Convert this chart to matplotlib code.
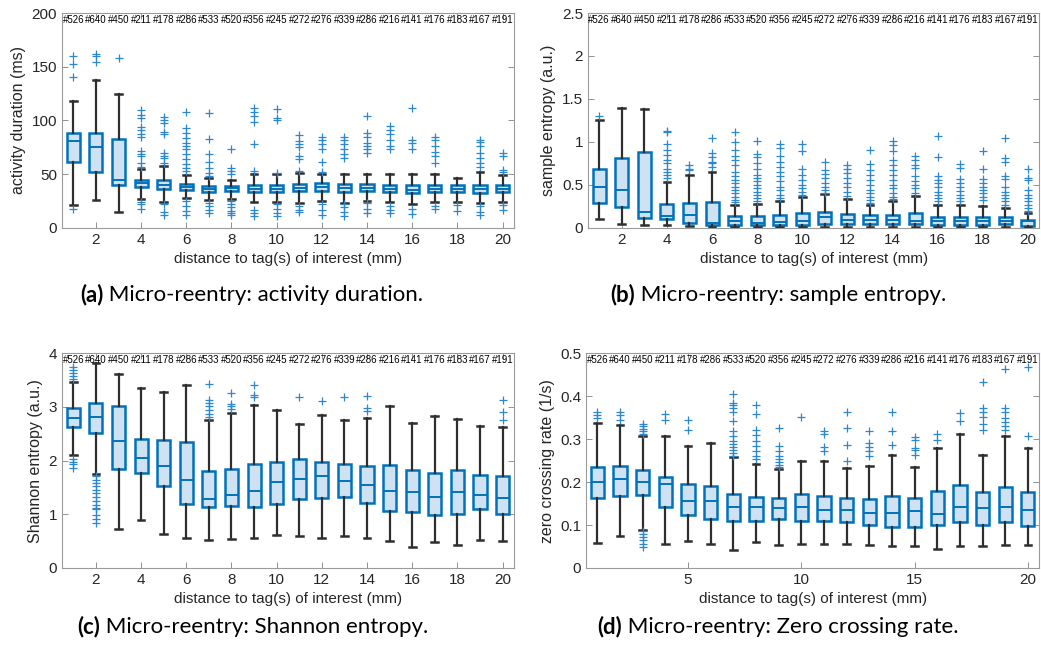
import numpy as np
import matplotlib
matplotlib.use("Agg")
import matplotlib.pyplot as plt
import matplotlib.transforms as mtransforms

plt.rcParams['font.family'] = ['Liberation Sans', 'DejaVu Sans']

# distances 1..20 mm and the number of samples per distance
dist = np.arange(1, 21)
counts = [526, 640, 450, 211, 178, 286, 533, 520, 356, 245,
          272, 276, 339, 286, 216, 141, 176, 183, 167, 191]

# (a) activity duration (ms)
dur_q1 = [61, 52, 40, 38, 36, 35, 33, 34, 33, 33, 34, 34, 33.5, 34, 33.5, 32.5, 33, 33, 32.5, 33]
dur_med = [80.5, 75.5, 45, 42, 40, 38, 36, 37, 36.5, 36.5, 37, 38, 37, 37.5, 36.5, 35.5, 36.5, 36.5, 36, 36.5]
dur_q3 = [88, 88, 83, 45, 45, 41, 39, 39, 40, 40, 41, 42, 41, 41, 40, 40, 40, 40, 40, 40]
dur_lo = [21, 26, 15, 27, 24, 28, 26, 27, 24, 24, 23, 25, 23, 25, 24, 22, 24, 24, 23, 24]
dur_hi = [118, 138, 125, 55, 58, 49, 46, 45, 50, 50, 51, 50, 50, 50, 50, 50, 50, 46, 52, 49]
dur_out = [
    [160, 153, 140, 18], [162, 160, 154], [158],
    [110, 105, 102, 94, 91, 87, 85, 72, 69, 67, 60, 57, 24, 22, 18],
    [103, 100, 98, 89, 87, 70, 67, 65, 60, 22, 15, 12],
    [108, 93, 88, 84, 79, 76, 73, 69, 64, 59, 56, 53, 25, 20, 16, 12],
    [107, 83, 69, 61, 56, 51, 48, 23, 20, 17, 14],
    [73, 56, 53, 50, 25, 22, 19, 16, 14, 12],
    [112, 108, 104, 99, 78, 53, 17, 14, 11],
    [111, 102, 100, 51, 22, 18, 14, 11],
    [86, 81, 78, 75, 67, 64, 53, 20, 17, 15],
    [85, 82, 78, 73, 61, 52, 22, 17, 12],
    [85, 82, 78, 73, 69, 65, 22, 19, 15, 11],
    [104, 88, 85, 79, 76, 73, 70, 23, 18, 14],
    [95, 91, 87, 82, 76, 73, 20, 17, 14],
    [112, 82, 79, 73, 18, 13],
    [85, 82, 76, 71, 67, 60, 20, 18],
    [21, 16],
    [82, 80, 76, 70, 65, 60, 57, 20, 15, 12],
    [70, 67, 54, 52, 21, 17],
]

# (b) sample entropy (a.u.)
se_q1 = [0.29, 0.24, 0.12, 0.10, 0.06, 0.035, 0.03, 0.03, 0.03, 0.035,
         0.047, 0.04, 0.047, 0.047, 0.047, 0.035, 0.035, 0.035, 0.04, 0.023]
se_med = [0.47, 0.44, 0.19, 0.14, 0.15, 0.055, 0.075, 0.06, 0.065, 0.075,
          0.124, 0.09, 0.09, 0.09, 0.075, 0.085, 0.085, 0.085, 0.085, 0.074]
se_q3 = [0.68, 0.81, 0.88, 0.275, 0.295, 0.30, 0.14, 0.14, 0.15, 0.17,
         0.19, 0.16, 0.15, 0.15, 0.17, 0.13, 0.13, 0.13, 0.125, 0.093]
se_lo = [0.10, 0.04, 0.03, 0.03, 0.02, 0.015, 0.01, 0.01, 0.01, 0.01,
         0.01, 0.01, 0.01, 0.01, 0.01, 0.01, 0.01, 0.01, 0.01, 0.01]
se_hi = [1.26, 1.39, 1.38, 0.53, 0.61, 0.655, 0.27, 0.28, 0.31, 0.355,
         0.395, 0.335, 0.27, 0.31, 0.365, 0.27, 0.27, 0.26, 0.23, 0.17]
se_out = [
    [1.30], [], [],
    [1.13, 1.11, 0.98, 0.91, 0.85, 0.79, 0.75, 0.69, 0.655, 0.62, 0.58],
    [0.73, 0.69, 0.67],
    [1.05, 0.875, 0.83, 0.77, 0.75, 0.71],
    [1.11, 1.0, 0.91, 0.84, 0.79, 0.73, 0.655, 0.6, 0.56, 0.52, 0.48, 0.44, 0.40, 0.36, 0.325, 0.30],
    [1.01, 0.86, 0.83, 0.75, 0.68, 0.62, 0.58, 0.54, 0.50, 0.46, 0.42, 0.38, 0.345, 0.31],
    [0.97, 0.93, 0.84, 0.77, 0.71, 0.655, 0.6, 0.54, 0.48, 0.44, 0.38, 0.345],
    [0.98, 0.90, 0.69, 0.62, 0.56, 0.50, 0.46, 0.42, 0.38],
    [0.77, 0.67, 0.63, 0.58, 0.52, 0.48, 0.44, 0.41],
    [0.73, 0.68, 0.635, 0.58, 0.52, 0.47, 0.42, 0.37],
    [0.91, 0.74, 0.67, 0.62, 0.56, 0.50, 0.44, 0.40, 0.36, 0.325, 0.29],
    [1.01, 0.96, 0.89, 0.79, 0.73, 0.67, 0.62, 0.56, 0.50, 0.46, 0.41, 0.36, 0.33],
    [0.84, 0.79, 0.73, 0.70, 0.60, 0.54, 0.50, 0.46, 0.40],
    [1.07, 0.83, 0.60, 0.56, 0.52, 0.47, 0.42, 0.38, 0.345, 0.31],
    [0.74, 0.70, 0.57, 0.52, 0.48, 0.43, 0.38, 0.345, 0.31],
    [0.89, 0.69, 0.57, 0.52, 0.48, 0.44, 0.40, 0.36, 0.32],
    [1.04, 0.81, 0.77, 0.60, 0.57, 0.48, 0.42, 0.38, 0.345, 0.31, 0.27],
    [0.68, 0.58, 0.56, 0.44, 0.38, 0.345, 0.31, 0.27, 0.23, 0.20],
]

# (c) Shannon entropy (a.u.)
sh_q1 = [2.62, 2.52, 1.85, 1.77, 1.52, 1.20, 1.13, 1.15, 1.13, 1.19,
         1.28, 1.31, 1.33, 1.21, 1.07, 1.05, 0.99, 1.00, 1.10, 1.01]
sh_med = [2.80, 2.81, 2.36, 2.05, 1.89, 1.64, 1.29, 1.35, 1.44, 1.60,
          1.66, 1.71, 1.62, 1.55, 1.44, 1.41, 1.33, 1.41, 1.36, 1.31]
sh_q3 = [2.98, 3.08, 3.02, 2.41, 2.39, 2.34, 1.80, 1.84, 1.93, 1.97,
         2.03, 1.98, 1.94, 1.89, 1.91, 1.82, 1.77, 1.83, 1.74, 1.71]
sh_lo = [2.10, 1.75, 0.73, 0.90, 0.63, 0.55, 0.53, 0.54, 0.56, 0.61,
         0.59, 0.55, 0.60, 0.55, 0.51, 0.40, 0.48, 0.43, 0.53, 0.51]
sh_hi = [3.47, 3.81, 3.61, 3.35, 3.27, 3.41, 2.76, 2.88, 3.03, 2.95,
         2.69, 2.85, 2.76, 2.79, 3.01, 2.70, 2.83, 2.78, 2.64, 2.62]
sh_out = [
    [3.75, 3.69, 3.63, 3.57, 3.52, 2.03, 1.98, 1.94, 1.87],
    [1.71, 1.64, 1.58, 1.52, 1.46, 1.40, 1.33, 1.24, 1.18, 1.12, 1.09, 0.99, 0.91, 0.84],
    [], [], [], [],
    [3.42, 3.13, 3.07, 3.01, 2.95, 2.87, 2.81],
    [3.26, 3.06, 3.01, 2.96],
    [3.41, 3.22, 3.18],
    [], [3.19], [3.11], [3.19], [3.21, 2.98, 2.93],
    [], [], [], [], [], [3.13, 2.90, 2.76],
]

# (d) zero crossing rate (1/s)
zc_q1 = [0.162, 0.167, 0.171, 0.142, 0.124, 0.113, 0.109, 0.109, 0.113, 0.109,
         0.109, 0.106, 0.099, 0.096, 0.096, 0.099, 0.107, 0.099, 0.107, 0.098]
zc_med = [0.200, 0.206, 0.200, 0.196, 0.157, 0.157, 0.143, 0.143, 0.140, 0.143,
          0.136, 0.134, 0.129, 0.128, 0.133, 0.125, 0.143, 0.140, 0.143, 0.136]
zc_q3 = [0.236, 0.238, 0.228, 0.211, 0.196, 0.190, 0.172, 0.165, 0.163, 0.172,
         0.167, 0.163, 0.160, 0.167, 0.163, 0.179, 0.194, 0.177, 0.188, 0.177]
zc_lo = [0.059, 0.075, 0.089, 0.057, 0.062, 0.055, 0.043, 0.061, 0.053, 0.057,
         0.056, 0.056, 0.053, 0.051, 0.052, 0.045, 0.051, 0.052, 0.053, 0.053]
zc_hi = [0.338, 0.332, 0.308, 0.308, 0.285, 0.292, 0.259, 0.242, 0.230, 0.250,
         0.250, 0.233, 0.238, 0.264, 0.236, 0.279, 0.313, 0.264, 0.308, 0.279]
zc_out = [
    [0.362, 0.355, 0.350], [0.363, 0.355, 0.344],
    [0.336, 0.331, 0.323, 0.319, 0.311, 0.086, 0.080, 0.072, 0.065, 0.057, 0.048],
    [0.359, 0.344], [0.344, 0.322], [],
    [0.406, 0.385, 0.379, 0.372, 0.362, 0.342, 0.319, 0.308, 0.296, 0.288, 0.282, 0.274, 0.267, 0.261],
    [0.379, 0.358, 0.321, 0.310, 0.295, 0.285, 0.273, 0.261, 0.254],
    [0.325, 0.285, 0.273, 0.261, 0.254, 0.246, 0.240, 0.234],
    [0.352],
    [0.318, 0.311, 0.282, 0.273],
    [0.363, 0.325, 0.286, 0.250],
    [0.319, 0.290, 0.281, 0.273, 0.261],
    [0.363, 0.319, 0.286],
    [0.306, 0.298, 0.279, 0.275, 0.263],
    [0.313, 0.298], [0.360, 0.342],
    [0.433, 0.372, 0.363, 0.352, 0.336, 0.321],
    [0.462, 0.372, 0.362, 0.350, 0.340, 0.331, 0.321],
    [0.468, 0.308],
]

BLUE = '#0072BD'
FILL = '#cfe2f3'
DARK = '#2e2e2e'
TXT = '#262626'


def draw_panel(ax, q1, med, q3, lo, hi, out, ylim, yticks, yticklabels, ylabel, xticks):
    stats = []
    for i in range(len(dist)):
        stats.append(dict(q1=q1[i], med=med[i], q3=q3[i],
                          whislo=lo[i], whishi=hi[i], fliers=out[i]))
    ax.bxp(stats, positions=dist, widths=0.58, capwidths=0.3, patch_artist=True,
           manage_ticks=False,
           boxprops=dict(facecolor=FILL, edgecolor=BLUE, linewidth=1.8),
           medianprops=dict(color=BLUE, linewidth=1.4),
           whiskerprops=dict(color=DARK, linewidth=1.6),
           capprops=dict(color=DARK, linewidth=1.8),
           flierprops=dict(marker='+', markeredgecolor='#2a87d0', markersize=6,
                           markeredgewidth=0.9, linestyle='none'))
    ax.set_xlim(0.5, 20.5)
    ax.set_ylim(*ylim)
    ax.set_xticks(xticks)
    ax.set_yticks(yticks)
    ax.set_yticklabels(yticklabels)
    ax.set_ylabel(ylabel, fontsize=11.5, color=TXT)
    ax.set_xlabel('distance to tag(s) of interest (mm)', fontsize=11, color=TXT)
    ax.tick_params(direction='in', top=True, right=True, length=4,
                   labelsize=11, labelcolor=TXT, color='#808080', width=0.6)
    for s in ax.spines.values():
        s.set_color('#9a9a9a')
        s.set_linewidth(0.8)
    trans = mtransforms.blended_transform_factory(ax.transData, ax.transAxes)
    for x, n in zip(dist, counts):
        ax.text(x, 0.966, '#%d' % n, transform=trans, ha='center', va='center',
                fontsize=7, color='black',
                family=['Liberation Sans Narrow', 'Liberation Sans'])


fig = plt.figure(figsize=(10.41, 6.51), dpi=100)
ax_a = fig.add_axes([0.0596, 0.650, 0.434, 0.330])
ax_b = fig.add_axes([0.5648, 0.650, 0.4335, 0.330])
ax_c = fig.add_axes([0.0596, 0.1275, 0.434, 0.330])
ax_d = fig.add_axes([0.5630, 0.1275, 0.4353, 0.330])

even = list(range(2, 21, 2))
draw_panel(ax_a, dur_q1, dur_med, dur_q3, dur_lo, dur_hi, dur_out, (0, 200),
           [0, 50, 100, 150, 200], ['0', '50', '100', '150', '200'],
           'activity duration (ms)', even)
draw_panel(ax_b, se_q1, se_med, se_q3, se_lo, se_hi, se_out, (0, 2.5),
           [0, 0.5, 1, 1.5, 2, 2.5], ['0', '0.5', '1', '1.5', '2', '2.5'],
           'sample entropy (a.u.)', even)
draw_panel(ax_c, sh_q1, sh_med, sh_q3, sh_lo, sh_hi, sh_out, (0, 4),
           [0, 1, 2, 3, 4], ['0', '1', '2', '3', '4'],
           'Shannon entropy (a.u.)', even)
draw_panel(ax_d, zc_q1, zc_med, zc_q3, zc_lo, zc_hi, zc_out, (0, 0.5),
           [0, 0.1, 0.2, 0.3, 0.4, 0.5], ['0', '0.1', '0.2', '0.3', '0.4', '0.5'],
           'zero crossing rate (1/s)', [5, 10, 15, 20])

# sub-figure captions: bold tag followed by plain text
captions = [
    (0.0768, 0.547, '(a)', 'Micro-reentry: activity duration.'),
    (0.5860, 0.547, '(b)', 'Micro-reentry: sample entropy.'),
    (0.0740, 0.037, '(c)', 'Micro-reentry: Shannon entropy.'),
    (0.5735, 0.037, '(d)', 'Micro-reentry: Zero crossing rate.'),
]
for x, y, tag, rest in captions:
    t = fig.text(x, y, tag, fontsize=16, fontweight='bold', family='Lato',
                 ha='left', va='center', color='black')
    fig.axes[0].annotate(' ' + rest, xy=(1, 0.5), xycoords=t, ha='left', va='center',
                         fontsize=16, family='Lato', color='black',
                         annotation_clip=False)

fig.savefig('out.png', dpi=100)
